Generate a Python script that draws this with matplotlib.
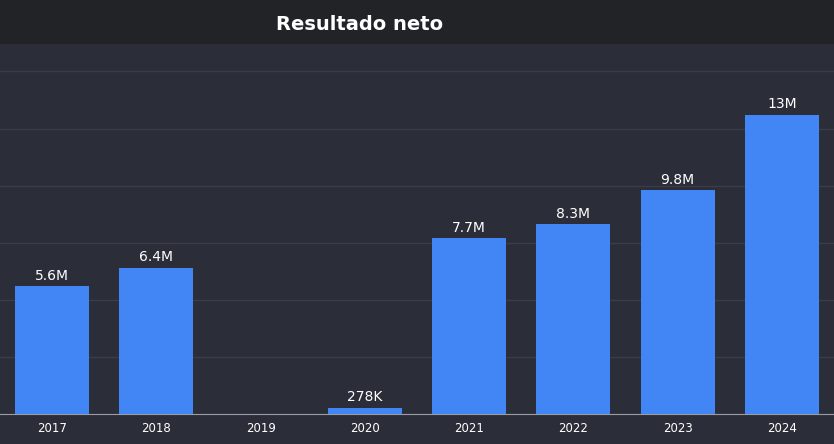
import matplotlib.pyplot as plt

years = ["2017", "2018", "2019", "2020", "2021", "2022", "2023", "2024"]
values = [5.6e6, 6.4e6, 0, 0.278e6, 7.7e6, 8.3e6, 9.8e6, 13.1e6]
labels = ["5.6M", "6.4M", "", "278K", "7.7M", "8.3M", "9.8M", "13M"]

fig = plt.figure(figsize=(8.34, 4.44), dpi=100)
fig.patch.set_facecolor("#2b2e38")
# title bar
fig.patches.append(plt.Rectangle((0, 1 - 44 / 444), 1, 44 / 444, transform=fig.transFigure,
                                 facecolor="#222327", zorder=0))
fig.text(360 / 834, 1 - 25 / 444, "Resultado neto", color="white", fontsize=14,
         fontweight="bold", ha="center", va="center")

ax = fig.add_axes([0, 30 / 444, 1, 370 / 444])
ax.set_facecolor("#2b2e38")
x = range(len(years))
bars = ax.bar(x, values, width=0.71, color="#4285f4", zorder=3)
for b, lab in zip(bars, labels):
    if lab:
        ax.text(b.get_x() + b.get_width() / 2, b.get_height() + 0.15e6, lab,
                color="white", ha="center", va="bottom", fontsize=10)
ax.set_xlim(-0.5, 7.5)
ax.set_ylim(0, 16.2e6)
ax.set_yticks([i * 2.5e6 for i in range(7)])
ax.yaxis.grid(True, color="#3a3d48", linewidth=1)
ax.set_axisbelow(True)
ax.tick_params(axis="y", left=False, labelleft=False)
ax.tick_params(axis="x", length=0, colors="white", labelsize=8.5, pad=6)
ax.set_xticks(list(x))
ax.set_xticklabels(years)
for s in ["top", "left", "right"]:
    ax.spines[s].set_visible(False)
ax.spines["bottom"].set_color("#9a9ca3")

fig.savefig("out.png", dpi=100, facecolor=fig.get_facecolor())
